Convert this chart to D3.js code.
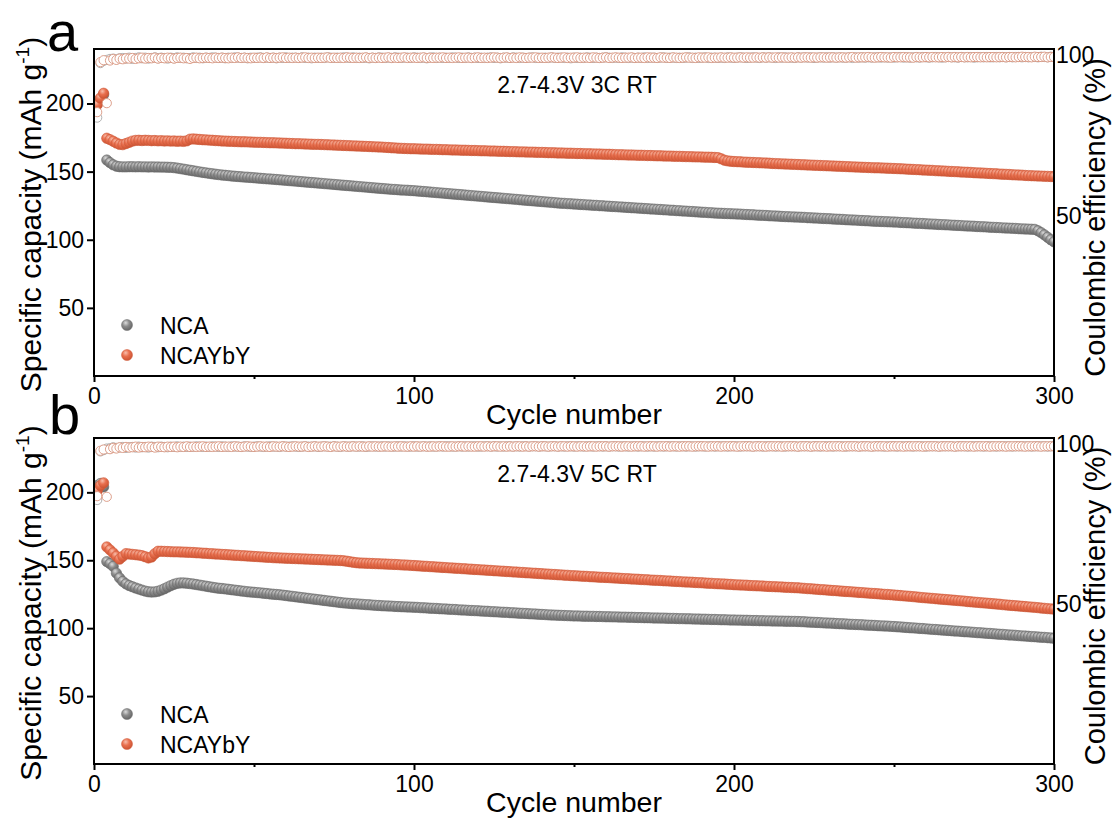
<!DOCTYPE html>
<html>
<head>
<meta charset="utf-8">
<script src="https://cdn.jsdelivr.net/npm/d3@7"></script>
<style>
  body { margin: 0; background: #fff; }
  svg { display: block; }
  text { font-family: "Liberation Sans", Arial, Helvetica, sans-serif; fill: #000; }
</style>
</head>
<body>
<svg id="chart" width="1113" height="819"></svg>
<script>
// ---- Axis ticks and labels ----
const xTicks = [0, 100, 200, 300];
const xMinorTicks = [50, 150, 250];
const capTicks = [50, 100, 150, 200];
const ceTicks = [50, 100];
const seriesNames = ["NCA", "NCAYbY"];
const conditions = ["2.7-4.3V 3C RT", "2.7-4.3V 5C RT"];
const panelLetters = ["a", "b"];

// ---- 3C cycling: discharge capacity (mAh/g), cycles 1-300 ----
const capA_NCA = [
  199.5, 203.5, 206.5, 158.5, 156.6, 155.0, 154.0, 153.6, 153.5, 153.5,
  153.6, 153.6, 153.5, 153.6, 153.5, 153.5, 153.4, 153.5, 153.4, 153.4,
  153.3, 153.3, 153.2, 153.1, 152.9, 152.6, 152.2, 151.8, 151.4, 151.0,
  150.6, 150.2, 149.8, 149.4, 149.1, 148.7, 148.4, 148.1, 147.8, 147.5,
  147.3, 147.1, 146.8, 146.6, 146.4, 146.2, 146.0, 145.9, 145.7, 145.5,
  145.3, 145.1, 144.9, 144.7, 144.6, 144.4, 144.2, 144.0, 143.8, 143.6,
  143.4, 143.2, 143.0, 142.8, 142.6, 142.4, 142.2, 142.0, 141.8, 141.6,
  141.4, 141.2, 141.0, 140.8, 140.6, 140.4, 140.2, 140.0, 139.8, 139.6,
  139.4, 139.2, 139.0, 138.8, 138.6, 138.4, 138.2, 138.0, 137.8, 137.6,
  137.4, 137.2, 137.0, 136.9, 136.7, 136.5, 136.4, 136.3, 136.1, 136.0,
  135.8, 135.6, 135.4, 135.2, 135.0, 134.8, 134.6, 134.4, 134.2, 134.0,
  133.8, 133.6, 133.4, 133.2, 133.0, 132.8, 132.6, 132.4, 132.2, 132.0,
  131.8, 131.6, 131.4, 131.2, 131.0, 130.8, 130.6, 130.4, 130.2, 130.0,
  129.8, 129.6, 129.4, 129.2, 129.0, 128.8, 128.6, 128.4, 128.2, 128.0,
  127.8, 127.6, 127.4, 127.2, 127.0, 126.8, 126.7, 126.5, 126.4, 126.2,
  126.1, 125.9, 125.8, 125.6, 125.5, 125.3, 125.2, 125.0, 124.9, 124.7,
  124.6, 124.4, 124.3, 124.1, 124.0, 123.8, 123.7, 123.5, 123.4, 123.2,
  123.1, 122.9, 122.8, 122.6, 122.5, 122.3, 122.2, 122.0, 121.9, 121.7,
  121.6, 121.4, 121.3, 121.1, 121.0, 120.8, 120.7, 120.5, 120.4, 120.2,
  120.1, 119.9, 119.8, 119.6, 119.5, 119.4, 119.3, 119.2, 119.1, 119.0,
  118.9, 118.8, 118.6, 118.5, 118.4, 118.3, 118.1, 118.0, 117.9, 117.8,
  117.6, 117.5, 117.4, 117.3, 117.1, 117.0, 116.9, 116.8, 116.7, 116.6,
  116.5, 116.4, 116.2, 116.1, 116.0, 115.9, 115.7, 115.6, 115.5, 115.4,
  115.2, 115.1, 115.0, 114.9, 114.7, 114.6, 114.5, 114.4, 114.2, 114.1,
  114.0, 113.9, 113.7, 113.6, 113.5, 113.4, 113.3, 113.2, 113.1, 113.0,
  112.9, 112.7, 112.6, 112.5, 112.4, 112.2, 112.1, 112.0, 111.9, 111.7,
  111.6, 111.5, 111.4, 111.2, 111.1, 111.0, 110.9, 110.7, 110.6, 110.5,
  110.4, 110.2, 110.1, 110.0, 109.9, 109.7, 109.6, 109.5, 109.4, 109.2,
  109.1, 109.0, 108.9, 108.7, 108.6, 108.5, 108.4, 108.3, 108.1, 108.0,
  107.9, 107.8, 107.7, 107.6, 106.6, 105.2, 103.6, 101.8, 100.0, 98.5
];
const capA_YbY = [
  199.0, 204.0, 207.5, 174.5, 173.5, 172.3, 171.0, 170.0, 169.8, 170.6,
  171.5, 172.4, 172.9, 173.0, 172.8, 173.0, 172.9, 172.7, 172.8, 172.6,
  172.7, 172.5, 172.6, 172.4, 172.5, 172.3, 172.4, 172.2, 172.6, 173.8,
  174.0, 173.8, 173.6, 173.4, 173.3, 173.1, 173.0, 172.8, 172.7, 172.5,
  172.4, 172.3, 172.2, 172.1, 172.0, 171.9, 171.9, 171.8, 171.7, 171.6,
  171.5, 171.5, 171.4, 171.3, 171.2, 171.2, 171.1, 171.0, 170.9, 170.8,
  170.7, 170.6, 170.5, 170.5, 170.4, 170.3, 170.2, 170.1, 170.0, 170.0,
  169.9, 169.8, 169.7, 169.6, 169.5, 169.4, 169.3, 169.2, 169.1, 169.0,
  168.9, 168.8, 168.7, 168.6, 168.5, 168.4, 168.3, 168.2, 168.1, 168.0,
  167.8, 167.7, 167.5, 167.4, 167.2, 167.1, 167.0, 166.9, 166.8, 166.8,
  166.7, 166.6, 166.5, 166.5, 166.4, 166.3, 166.3, 166.2, 166.1, 166.1,
  166.0, 165.9, 165.9, 165.8, 165.7, 165.7, 165.6, 165.5, 165.5, 165.4,
  165.3, 165.3, 165.2, 165.1, 165.1, 165.0, 164.9, 164.9, 164.8, 164.7,
  164.7, 164.6, 164.5, 164.5, 164.4, 164.3, 164.3, 164.2, 164.1, 164.1,
  164.0, 163.9, 163.9, 163.8, 163.7, 163.7, 163.6, 163.5, 163.5, 163.4,
  163.3, 163.3, 163.2, 163.1, 163.1, 163.0, 162.9, 162.9, 162.8, 162.7,
  162.7, 162.6, 162.5, 162.4, 162.4, 162.3, 162.2, 162.2, 162.1, 162.0,
  162.0, 161.9, 161.8, 161.8, 161.7, 161.6, 161.6, 161.5, 161.4, 161.4,
  161.3, 161.2, 161.2, 161.1, 161.0, 161.0, 160.9, 160.8, 160.8, 160.7,
  160.6, 160.6, 160.5, 160.4, 160.3, 159.4, 158.4, 157.9, 157.6, 157.4,
  157.3, 157.2, 157.0, 156.9, 156.8, 156.7, 156.6, 156.5, 156.4, 156.3,
  156.2, 156.0, 155.9, 155.8, 155.7, 155.6, 155.5, 155.4, 155.3, 155.2,
  155.1, 155.0, 154.9, 154.8, 154.7, 154.6, 154.5, 154.4, 154.3, 154.2,
  154.1, 154.0, 153.9, 153.8, 153.7, 153.6, 153.5, 153.4, 153.3, 153.2,
  153.1, 153.0, 152.9, 152.8, 152.8, 152.7, 152.6, 152.5, 152.4, 152.3,
  152.2, 152.1, 152.0, 151.8, 151.7, 151.6, 151.5, 151.4, 151.2, 151.1,
  151.0, 150.9, 150.7, 150.6, 150.5, 150.4, 150.2, 150.1, 150.0, 149.9,
  149.7, 149.6, 149.5, 149.4, 149.2, 149.1, 149.0, 148.9, 148.7, 148.6,
  148.5, 148.4, 148.2, 148.1, 148.0, 147.9, 147.7, 147.6, 147.5, 147.4,
  147.2, 147.1, 147.0, 146.9, 146.8, 146.7, 146.6, 146.5, 146.4, 146.3
];

// ---- 5C cycling: discharge capacity (mAh/g), cycles 1-300 ----
const capB_NCA = [
  205.0, 206.5, 204.0, 149.0, 147.5, 145.5, 140.5, 137.0, 134.4, 132.6,
  131.4, 130.5, 129.6, 128.8, 128.0, 127.3, 126.8, 126.6, 126.7, 127.2,
  128.0, 129.0, 130.2, 131.3, 132.3, 133.0, 133.3, 133.3, 133.1, 132.8,
  132.5, 132.1, 131.7, 131.3, 130.9, 130.5, 130.1, 129.7, 129.4, 129.2,
  128.9, 128.6, 128.3, 128.0, 127.7, 127.4, 127.1, 126.8, 126.6, 126.4,
  126.2, 126.0, 125.7, 125.5, 125.2, 125.0, 124.8, 124.6, 124.3, 124.0,
  123.7, 123.4, 123.1, 122.8, 122.5, 122.2, 121.9, 121.6, 121.3, 121.0,
  120.7, 120.4, 120.1, 119.8, 119.5, 119.2, 118.9, 118.6, 118.4, 118.2,
  118.0, 117.9, 117.7, 117.5, 117.3, 117.2, 117.0, 116.8, 116.7, 116.5,
  116.4, 116.3, 116.2, 116.0, 115.9, 115.8, 115.7, 115.6, 115.5, 115.4,
  115.3, 115.1, 115.0, 114.9, 114.7, 114.6, 114.5, 114.3, 114.2, 114.1,
  113.9, 113.8, 113.7, 113.5, 113.4, 113.3, 113.1, 113.0, 112.9, 112.8,
  112.6, 112.5, 112.4, 112.2, 112.1, 112.0, 111.8, 111.7, 111.6, 111.4,
  111.3, 111.2, 111.0, 110.9, 110.8, 110.6, 110.5, 110.4, 110.2, 110.1,
  110.0, 109.8, 109.7, 109.6, 109.5, 109.4, 109.3, 109.2, 109.1, 109.0,
  109.0, 108.9, 108.8, 108.8, 108.7, 108.7, 108.6, 108.6, 108.5, 108.4,
  108.4, 108.3, 108.3, 108.2, 108.1, 108.1, 108.0, 108.0, 107.9, 107.8,
  107.8, 107.7, 107.7, 107.6, 107.5, 107.5, 107.4, 107.4, 107.3, 107.2,
  107.2, 107.1, 107.0, 107.0, 106.9, 106.9, 106.8, 106.7, 106.7, 106.6,
  106.6, 106.5, 106.4, 106.4, 106.3, 106.2, 106.2, 106.1, 106.0, 106.0,
  105.9, 105.9, 105.8, 105.8, 105.7, 105.6, 105.6, 105.5, 105.5, 105.4,
  105.4, 105.3, 105.3, 105.2, 105.2, 105.1, 105.1, 105.0, 105.0, 104.9,
  104.8, 104.7, 104.5, 104.4, 104.3, 104.2, 104.1, 103.9, 103.8, 103.7,
  103.6, 103.4, 103.3, 103.2, 103.1, 102.9, 102.8, 102.7, 102.6, 102.5,
  102.3, 102.2, 102.1, 102.0, 101.8, 101.7, 101.6, 101.5, 101.3, 101.2,
  101.0, 100.9, 100.7, 100.5, 100.3, 100.2, 100.0, 99.8, 99.7, 99.5,
  99.3, 99.1, 99.0, 98.8, 98.6, 98.5, 98.3, 98.1, 97.9, 97.8,
  97.6, 97.4, 97.3, 97.1, 96.9, 96.7, 96.6, 96.4, 96.2, 96.1,
  95.9, 95.7, 95.5, 95.4, 95.2, 95.0, 94.9, 94.7, 94.5, 94.3,
  94.2, 94.0, 93.8, 93.7, 93.5, 93.3, 93.2, 93.0, 92.8, 92.6
];
const capB_YbY = [
  201.0, 205.0, 207.0, 159.8, 157.6, 155.4, 153.0, 150.8, 152.8, 154.9,
  154.6, 154.3, 154.1, 153.8, 153.4, 152.6, 151.7, 152.4, 154.8, 156.6,
  156.6, 156.5, 156.4, 156.3, 156.2, 156.2, 156.1, 156.0, 155.9, 155.8,
  155.7, 155.5, 155.4, 155.2, 155.1, 154.9, 154.8, 154.6, 154.5, 154.3,
  154.2, 154.0, 153.9, 153.7, 153.6, 153.4, 153.3, 153.1, 153.0, 152.8,
  152.7, 152.5, 152.4, 152.2, 152.1, 151.9, 151.8, 151.7, 151.6, 151.5,
  151.4, 151.3, 151.2, 151.1, 151.0, 150.9, 150.8, 150.7, 150.6, 150.5,
  150.4, 150.3, 150.2, 150.1, 150.0, 149.9, 149.8, 149.6, 149.3, 148.9,
  148.5, 148.2, 148.0, 147.9, 147.8, 147.7, 147.6, 147.5, 147.4, 147.3,
  147.2, 147.1, 147.0, 146.9, 146.8, 146.6, 146.5, 146.4, 146.2, 146.1,
  145.9, 145.8, 145.6, 145.5, 145.3, 145.2, 145.0, 144.9, 144.7, 144.6,
  144.4, 144.3, 144.1, 144.0, 143.8, 143.7, 143.5, 143.4, 143.2, 143.1,
  142.9, 142.8, 142.6, 142.5, 142.3, 142.2, 142.0, 141.9, 141.7, 141.6,
  141.4, 141.3, 141.1, 141.0, 140.8, 140.7, 140.5, 140.4, 140.2, 140.1,
  139.9, 139.8, 139.6, 139.5, 139.3, 139.2, 139.0, 138.9, 138.7, 138.6,
  138.5, 138.3, 138.2, 138.1, 137.9, 137.8, 137.7, 137.5, 137.4, 137.3,
  137.2, 137.0, 136.9, 136.8, 136.6, 136.5, 136.4, 136.2, 136.1, 136.0,
  135.8, 135.7, 135.6, 135.4, 135.3, 135.2, 135.1, 134.9, 134.8, 134.7,
  134.5, 134.4, 134.3, 134.1, 134.0, 133.9, 133.8, 133.6, 133.5, 133.4,
  133.2, 133.1, 133.0, 132.8, 132.7, 132.6, 132.5, 132.3, 132.2, 132.0,
  131.9, 131.8, 131.7, 131.6, 131.4, 131.3, 131.2, 131.1, 131.0, 130.8,
  130.7, 130.6, 130.5, 130.4, 130.3, 130.1, 130.0, 129.9, 129.8, 129.7,
  129.5, 129.3, 129.1, 129.0, 128.8, 128.6, 128.4, 128.3, 128.1, 127.9,
  127.7, 127.6, 127.4, 127.2, 127.0, 126.9, 126.7, 126.5, 126.3, 126.2,
  126.0, 125.8, 125.6, 125.5, 125.3, 125.1, 124.9, 124.8, 124.6, 124.4,
  124.2, 124.0, 123.8, 123.6, 123.4, 123.2, 123.0, 122.7, 122.5, 122.3,
  122.1, 121.9, 121.7, 121.5, 121.3, 121.1, 120.9, 120.7, 120.5, 120.3,
  120.1, 119.9, 119.6, 119.4, 119.2, 119.0, 118.8, 118.6, 118.4, 118.2,
  118.0, 117.8, 117.6, 117.3, 117.1, 116.9, 116.7, 116.5, 116.3, 116.1,
  115.9, 115.7, 115.5, 115.3, 115.1, 114.8, 114.6, 114.4, 114.2, 114.0
];

// ---- Coulombic efficiency (%), cycles 1-300 ----
const ceA_NCA = [
  80.6, 97.6, 98.3, 98.6, 98.9, 99.0, 98.8, 99.1, 99.2, 99.0,
  99.3, 98.9, 99.2, 99.4, 99.1, 99.3, 99.0, 99.2, 99.4, 99.1,
  99.3, 99.2, 99.0, 99.3, 99.1, 99.4, 99.2, 99.3, 99.1, 99.2,
  99.4, 99.2, 99.3, 99.1, 99.3, 99.2, 99.4, 99.3, 99.2, 99.3,
  99.1, 99.3, 99.2, 99.4, 99.3, 99.2, 99.3, 99.1, 99.3, 99.2,
  99.3, 99.4, 99.2, 99.3, 99.2, 99.3, 99.1, 99.3, 99.2, 99.4,
  99.2, 99.3, 99.3, 99.2, 99.4, 99.2, 99.3, 99.1, 99.3, 99.2,
  99.3, 99.2, 99.4, 99.3, 99.2, 99.3, 99.2, 99.4, 99.3, 99.2,
  99.4, 99.2, 99.3, 99.2, 99.3, 99.1, 99.3, 99.2, 99.4, 99.3,
  99.2, 99.3, 99.2, 99.4, 99.3, 99.2, 99.3, 99.3, 99.2, 99.4,
  99.3, 99.2, 99.3, 99.1, 99.3, 99.4, 99.2, 99.3, 99.2, 99.3,
  99.2, 99.4, 99.3, 99.2, 99.3, 99.2, 99.4, 99.2, 99.3, 99.2,
  99.3, 99.2, 99.3, 99.4, 99.2, 99.3, 99.1, 99.3, 99.3, 99.2,
  99.4, 99.3, 99.2, 99.3, 99.2, 99.3, 99.4, 99.2, 99.3, 99.2,
  99.3, 99.2, 99.4, 99.2, 99.3, 99.3, 99.2, 99.3, 99.1, 99.3,
  99.2, 99.3, 99.2, 99.4, 99.3, 99.2, 99.3, 99.2, 99.3, 99.4,
  99.3, 99.2, 99.3, 99.2, 99.4, 99.3, 99.2, 99.3, 99.2, 99.3,
  99.2, 99.4, 99.2, 99.3, 99.3, 99.2, 99.3, 99.4, 99.2, 99.3,
  99.3, 99.2, 99.3, 99.2, 99.3, 99.4, 99.2, 99.3, 99.2, 99.3,
  99.4, 99.2, 99.3, 99.3, 99.2, 99.3, 99.2, 99.4, 99.3, 99.2,
  99.3, 99.4, 99.3, 99.2, 99.3, 99.4, 99.3, 99.2, 99.4, 99.3,
  99.4, 99.3, 99.2, 99.4, 99.3, 99.4, 99.3, 99.3, 99.2, 99.4,
  99.3, 99.4, 99.3, 99.4, 99.2, 99.3, 99.4, 99.3, 99.4, 99.3,
  99.4, 99.3, 99.4, 99.3, 99.3, 99.4, 99.2, 99.4, 99.3, 99.4,
  99.3, 99.4, 99.3, 99.4, 99.4, 99.3, 99.4, 99.3, 99.4, 99.3,
  99.4, 99.5, 99.3, 99.4, 99.3, 99.4, 99.4, 99.3, 99.5, 99.4,
  99.3, 99.4, 99.5, 99.4, 99.3, 99.4, 99.5, 99.4, 99.4, 99.3,
  99.5, 99.4, 99.4, 99.5, 99.3, 99.4, 99.5, 99.4, 99.5, 99.4,
  99.4, 99.5, 99.4, 99.5, 99.4, 99.5, 99.4, 99.5, 99.5, 99.4,
  99.5, 99.4, 99.5, 99.5, 99.4, 99.6, 99.5, 99.4, 99.6, 99.5
];
const ceA_YbY = [
  82.3, 97.9, 98.5, 85.1, 98.4, 98.9, 98.6, 99.0, 98.8, 99.1,
  99.0, 99.2, 98.9, 99.1, 99.3, 99.0, 99.2, 99.1, 99.3, 99.0,
  99.2, 99.1, 99.3, 99.2, 99.0, 99.2, 99.3, 99.1, 99.2, 98.9,
  99.2, 99.3, 99.1, 99.2, 99.3, 99.2, 99.1, 99.3, 99.2, 99.3,
  99.2, 99.1, 99.3, 99.2, 99.4, 99.2, 99.3, 99.2, 99.1, 99.3,
  99.2, 99.3, 99.2, 99.4, 99.2, 99.3, 99.2, 99.3, 99.4, 99.2,
  99.3, 99.2, 99.3, 99.2, 99.3, 99.4, 99.2, 99.3, 99.2, 99.3,
  99.2, 99.3, 99.4, 99.2, 99.3, 99.2, 99.3, 99.2, 99.4, 99.3,
  99.2, 99.3, 99.2, 99.3, 99.4, 99.2, 99.3, 99.2, 99.3, 99.2,
  99.3, 99.4, 99.2, 99.3, 99.2, 99.3, 99.4, 99.2, 99.3, 99.3,
  99.2, 99.3, 99.4, 99.2, 99.3, 99.2, 99.3, 99.3, 99.4, 99.2,
  99.3, 99.2, 99.3, 99.4, 99.2, 99.3, 99.3, 99.2, 99.3, 99.4,
  99.2, 99.3, 99.2, 99.3, 99.4, 99.3, 99.2, 99.3, 99.4, 99.2,
  99.3, 99.2, 99.4, 99.3, 99.2, 99.3, 99.3, 99.4, 99.2, 99.3,
  99.2, 99.3, 99.4, 99.3, 99.2, 99.3, 99.4, 99.2, 99.3, 99.3,
  99.4, 99.2, 99.3, 99.3, 99.2, 99.4, 99.3, 99.2, 99.3, 99.4,
  99.2, 99.3, 99.4, 99.3, 99.2, 99.3, 99.3, 99.4, 99.2, 99.3,
  99.3, 99.2, 99.4, 99.3, 99.3, 99.2, 99.4, 99.3, 99.3, 99.2,
  99.4, 99.3, 99.2, 99.3, 99.4, 99.3, 99.3, 99.2, 99.4, 99.3,
  99.3, 99.4, 99.2, 99.3, 99.3, 99.4, 99.3, 99.3, 99.4, 99.3,
  99.3, 99.4, 99.3, 99.4, 99.3, 99.3, 99.4, 99.3, 99.4, 99.3,
  99.4, 99.3, 99.4, 99.3, 99.4, 99.3, 99.3, 99.4, 99.3, 99.4,
  99.3, 99.4, 99.4, 99.3, 99.4, 99.3, 99.4, 99.4, 99.3, 99.4,
  99.4, 99.3, 99.4, 99.4, 99.3, 99.4, 99.5, 99.3, 99.4, 99.4,
  99.4, 99.5, 99.4, 99.3, 99.4, 99.5, 99.4, 99.4, 99.3, 99.5,
  99.4, 99.4, 99.5, 99.4, 99.4, 99.3, 99.5, 99.4, 99.4, 99.5,
  99.4, 99.5, 99.4, 99.4, 99.5, 99.4, 99.5, 99.4, 99.5, 99.4,
  99.5, 99.4, 99.5, 99.4, 99.5, 99.5, 99.4, 99.5, 99.4, 99.5,
  99.5, 99.4, 99.5, 99.5, 99.4, 99.5, 99.5, 99.4, 99.5, 99.6,
  99.5, 99.5, 99.4, 99.6, 99.5, 99.5, 99.6, 99.4, 99.5, 99.5
];
const ceB_NCA = [
  82.6, 97.8, 98.2, 98.7, 98.8, 99.1, 98.9, 99.0, 99.2, 98.9,
  99.1, 99.2, 99.0, 99.3, 99.1, 99.2, 99.0, 99.3, 99.2, 99.1,
  99.3, 99.2, 99.1, 99.3, 99.2, 99.4, 99.2, 99.3, 99.2, 99.3,
  99.2, 99.4, 99.3, 99.2, 99.3, 99.2, 99.4, 99.3, 99.2, 99.4,
  99.3, 99.2, 99.4, 99.3, 99.3, 99.2, 99.4, 99.3, 99.2, 99.3,
  99.4, 99.3, 99.2, 99.3, 99.4, 99.3, 99.3, 99.2, 99.4, 99.3,
  99.3, 99.4, 99.3, 99.2, 99.3, 99.4, 99.3, 99.3, 99.4, 99.2,
  99.3, 99.4, 99.3, 99.3, 99.4, 99.3, 99.2, 99.4, 99.3, 99.3,
  99.4, 99.3, 99.3, 99.4, 99.2, 99.3, 99.4, 99.3, 99.3, 99.4,
  99.3, 99.4, 99.3, 99.3, 99.4, 99.3, 99.4, 99.3, 99.3, 99.4,
  99.3, 99.3, 99.4, 99.3, 99.4, 99.3, 99.3, 99.4, 99.3, 99.4,
  99.4, 99.3, 99.3, 99.4, 99.3, 99.4, 99.3, 99.4, 99.4, 99.3,
  99.3, 99.4, 99.4, 99.3, 99.4, 99.3, 99.4, 99.3, 99.4, 99.4,
  99.3, 99.4, 99.3, 99.4, 99.4, 99.3, 99.4, 99.4, 99.3, 99.4,
  99.4, 99.3, 99.4, 99.4, 99.3, 99.4, 99.3, 99.4, 99.4, 99.3,
  99.4, 99.4, 99.3, 99.4, 99.4, 99.3, 99.4, 99.4, 99.3, 99.4,
  99.3, 99.4, 99.4, 99.3, 99.4, 99.4, 99.3, 99.4, 99.4, 99.3,
  99.4, 99.4, 99.3, 99.4, 99.3, 99.4, 99.4, 99.3, 99.4, 99.4,
  99.4, 99.3, 99.4, 99.4, 99.3, 99.4, 99.4, 99.3, 99.4, 99.4,
  99.3, 99.4, 99.4, 99.3, 99.4, 99.4, 99.4, 99.3, 99.4, 99.4,
  99.4, 99.3, 99.4, 99.4, 99.4, 99.3, 99.4, 99.4, 99.3, 99.4,
  99.4, 99.4, 99.3, 99.4, 99.4, 99.3, 99.4, 99.4, 99.4, 99.3,
  99.4, 99.4, 99.4, 99.3, 99.4, 99.4, 99.3, 99.4, 99.4, 99.4,
  99.3, 99.4, 99.4, 99.4, 99.3, 99.4, 99.4, 99.4, 99.3, 99.4,
  99.4, 99.4, 99.3, 99.4, 99.4, 99.4, 99.3, 99.4, 99.4, 99.4,
  99.3, 99.4, 99.4, 99.4, 99.4, 99.3, 99.4, 99.4, 99.4, 99.3,
  99.4, 99.4, 99.4, 99.3, 99.4, 99.4, 99.4, 99.4, 99.3, 99.4,
  99.4, 99.4, 99.3, 99.4, 99.4, 99.4, 99.4, 99.3, 99.4, 99.4,
  99.4, 99.3, 99.4, 99.4, 99.4, 99.4, 99.3, 99.4, 99.4, 99.4,
  99.4, 99.4, 99.3, 99.4, 99.4, 99.4, 99.4, 99.3, 99.4, 99.4
];
const ceB_YbY = [
  83.8, 98.0, 98.4, 83.6, 98.5, 98.9, 98.7, 99.1, 98.9, 99.2,
  99.0, 99.1, 99.3, 99.0, 99.2, 99.1, 99.3, 99.2, 99.0, 99.3,
  99.2, 99.1, 99.3, 99.2, 99.3, 99.1, 99.3, 99.2, 99.4, 99.2,
  99.3, 99.2, 99.3, 99.4, 99.2, 99.3, 99.2, 99.3, 99.4, 99.2,
  99.3, 99.3, 99.2, 99.4, 99.3, 99.2, 99.3, 99.4, 99.3, 99.2,
  99.3, 99.4, 99.3, 99.3, 99.2, 99.4, 99.3, 99.3, 99.4, 99.3,
  99.2, 99.3, 99.4, 99.3, 99.3, 99.4, 99.2, 99.3, 99.4, 99.3,
  99.3, 99.4, 99.3, 99.2, 99.4, 99.3, 99.3, 99.4, 99.3, 99.3,
  99.4, 99.3, 99.4, 99.3, 99.3, 99.4, 99.3, 99.4, 99.3, 99.3,
  99.4, 99.3, 99.3, 99.4, 99.3, 99.4, 99.3, 99.3, 99.4, 99.3,
  99.4, 99.3, 99.4, 99.3, 99.3, 99.4, 99.3, 99.4, 99.4, 99.3,
  99.3, 99.4, 99.3, 99.4, 99.4, 99.3, 99.4, 99.3, 99.3, 99.4,
  99.4, 99.3, 99.4, 99.3, 99.4, 99.4, 99.3, 99.4, 99.3, 99.4,
  99.3, 99.4, 99.4, 99.3, 99.4, 99.3, 99.4, 99.4, 99.3, 99.4,
  99.4, 99.3, 99.4, 99.4, 99.3, 99.4, 99.4, 99.3, 99.4, 99.4,
  99.3, 99.4, 99.4, 99.3, 99.4, 99.4, 99.3, 99.4, 99.4, 99.4,
  99.3, 99.4, 99.4, 99.4, 99.3, 99.4, 99.4, 99.3, 99.4, 99.4,
  99.4, 99.3, 99.4, 99.4, 99.4, 99.3, 99.4, 99.4, 99.4, 99.3,
  99.4, 99.4, 99.3, 99.4, 99.4, 99.4, 99.3, 99.4, 99.4, 99.4,
  99.4, 99.3, 99.4, 99.4, 99.4, 99.3, 99.4, 99.4, 99.4, 99.4,
  99.3, 99.4, 99.4, 99.4, 99.4, 99.3, 99.4, 99.4, 99.4, 99.3,
  99.4, 99.4, 99.4, 99.4, 99.3, 99.4, 99.4, 99.4, 99.4, 99.3,
  99.4, 99.4, 99.4, 99.3, 99.4, 99.4, 99.4, 99.4, 99.3, 99.4,
  99.4, 99.4, 99.4, 99.3, 99.4, 99.4, 99.4, 99.4, 99.3, 99.4,
  99.4, 99.4, 99.3, 99.4, 99.4, 99.4, 99.4, 99.3, 99.4, 99.4,
  99.4, 99.4, 99.3, 99.4, 99.4, 99.4, 99.4, 99.4, 99.3, 99.4,
  99.4, 99.4, 99.4, 99.3, 99.4, 99.4, 99.4, 99.4, 99.3, 99.4,
  99.4, 99.4, 99.4, 99.4, 99.3, 99.4, 99.4, 99.4, 99.4, 99.3,
  99.4, 99.4, 99.4, 99.4, 99.3, 99.4, 99.4, 99.4, 99.4, 99.4,
  99.3, 99.4, 99.4, 99.4, 99.4, 99.3, 99.4, 99.4, 99.4, 99.4
];

// ---- Layout ----
const plotLeft = 94, plotRight = 1054;
const FONT = '"Liberation Sans", Arial, Helvetica, sans-serif';
const TICK_FS = 23;

const svg = d3.select("#chart");
const defs = svg.append("defs");

// shaded "ball" markers
function ballGradient(id, hi, mid, lo) {
  const g = defs.append("radialGradient").attr("id", id)
    .attr("cx", "40%").attr("cy", "34%").attr("r", "70%").attr("fx", "38%").attr("fy", "30%");
  g.append("stop").attr("offset", "0%").attr("stop-color", hi);
  g.append("stop").attr("offset", "45%").attr("stop-color", mid);
  g.append("stop").attr("offset", "100%").attr("stop-color", lo);
}
ballGradient("ballGray", "#dcdcdc", "#8c8c8c", "#626262");
ballGradient("ballOrange", "#f8bfad", "#e9704f", "#c9502f");

const style = {
  NCA:    { fill: "url(#ballGray)",   edge: "#6c6c6c", ce: "#a8a8a8" },
  NCAYbY: { fill: "url(#ballOrange)", edge: "#cf5a3b", ce: "#d9957f" }
};

const panels = [
  { letter: panelLetters[0], cond: conditions[0], top: 49,  bottom: 376,
    cap: [capA_NCA, capA_YbY], ce: [ceA_NCA, ceA_YbY] },
  { letter: panelLetters[1], cond: conditions[1], top: 438, bottom: 764,
    cap: [capB_NCA, capB_YbY], ce: [ceB_NCA, ceB_YbY] }
];

const x = d3.scaleLinear().domain([0, 300]).range([plotLeft, plotRight]);

panels.forEach((p, i) => {
  const yCap = d3.scaleLinear().domain([0, 240]).range([p.bottom, p.top]);
  const yCE = d3.scaleLinear().domain([0, 102]).range([p.bottom, p.top]);
  const g = svg.append("g").attr("class", "panel-" + p.letter);

  const clipId = "plot-clip-" + i;
  defs.append("clipPath").attr("id", clipId).append("rect")
    .attr("x", plotLeft).attr("y", p.top)
    .attr("width", plotRight - plotLeft).attr("height", p.bottom - p.top);
  const plot = g.append("g").attr("clip-path", `url(#${clipId})`);

  // discharge capacity (filled balls)
  seriesNames.forEach((name, k) => {
    plot.append("g").selectAll("circle").data(p.cap[k]).join("circle")
      .attr("cx", (d, j) => x(j + 1))
      .attr("cy", d => yCap(d))
      .attr("r", 5.2)
      .attr("fill", style[name].fill)
      .attr("stroke", style[name].edge)
      .attr("stroke-width", 0.6);
  });

  // coulombic efficiency (hollow circles, right axis)
  seriesNames.forEach((name, k) => {
    plot.append("g").selectAll("circle").data(p.ce[k]).join("circle")
      .attr("cx", (d, j) => x(j + 1))
      .attr("cy", d => yCE(d))
      .attr("r", 4.6)
      .attr("fill", "#fff")
      .attr("stroke", style[name].ce)
      .attr("stroke-width", 0.9);
  });

  // frame
  g.append("rect")
    .attr("x", plotLeft).attr("y", p.top)
    .attr("width", plotRight - plotLeft).attr("height", p.bottom - p.top)
    .attr("fill", "none").attr("stroke", "#000").attr("stroke-width", 2);

  // left axis
  const axL = g.append("g").attr("transform", `translate(${plotLeft},0)`)
    .call(d3.axisLeft(yCap).tickValues(capTicks).tickSize(7).tickPadding(3));
  axL.select(".domain").remove();
  axL.selectAll("line").attr("stroke", "#000").attr("stroke-width", 2);
  axL.selectAll("text").attr("font-size", TICK_FS).attr("font-family", FONT).attr("fill", "#000");

  // right axis
  const axR = g.append("g").attr("transform", `translate(${plotRight},0)`)
    .call(d3.axisRight(yCE).tickValues(ceTicks).tickSize(0).tickPadding(2));
  axR.select(".domain").remove();
  axR.selectAll("text").attr("font-size", TICK_FS).attr("font-family", FONT).attr("fill", "#000");

  // bottom axis, major + minor ticks
  const axB = g.append("g").attr("transform", `translate(0,${p.bottom})`)
    .call(d3.axisBottom(x).tickValues(xTicks).tickSize(6).tickPadding(6));
  axB.select(".domain").remove();
  axB.selectAll("line").attr("stroke", "#000").attr("stroke-width", 2);
  axB.selectAll("text").attr("font-size", TICK_FS).attr("font-family", FONT).attr("fill", "#000");
  const axBm = g.append("g").attr("transform", `translate(0,${p.bottom})`)
    .call(d3.axisBottom(x).tickValues(xMinorTicks).tickSize(3).tickFormat(""));
  axBm.select(".domain").remove();
  axBm.selectAll("line").attr("stroke", "#000").attr("stroke-width", 2);

  // axis titles
  const midY = (p.top + p.bottom) / 2;
  const yt = g.append("text")
    .attr("transform", `translate(41,${midY + 2}) rotate(-90)`)
    .attr("text-anchor", "middle").attr("font-size", 30);
  yt.append("tspan").text("Specific capacity (mAh g");
  yt.append("tspan").attr("font-size", 19).attr("dy", -12).text("-1");
  yt.append("tspan").attr("dy", 12).text(")");

  g.append("text")
    .attr("transform", `translate(1105,${midY + 5}) rotate(-90)`)
    .attr("text-anchor", "middle").attr("font-size", 29)
    .text("Coulombic efficiency (%)");

  g.append("text")
    .attr("x", (plotLeft + plotRight) / 2).attr("y", p.bottom + 48)
    .attr("text-anchor", "middle").attr("font-size", 28.5)
    .text("Cycle number");

  // condition label
  g.append("text")
    .attr("x", 577).attr("y", p.top + 44)
    .attr("text-anchor", "middle").attr("font-size", 23)
    .text(p.cond);

  // legend
  seriesNames.forEach((name, k) => {
    const ly = p.top + 276 + k * 30;
    g.append("circle").attr("cx", 127).attr("cy", ly).attr("r", 5.5)
      .attr("fill", style[name].fill).attr("stroke", style[name].edge).attr("stroke-width", 0.5);
    g.append("text").attr("x", 160).attr("y", ly + 8.5)
      .attr("font-size", 23).text(name);
  });

  // panel letter
  g.append("text")
    .attr("x", i === 0 ? 47 : 49).attr("y", i === 0 ? 51 : 434)
    .attr("font-size", 56).text(p.letter);
});
</script>
</body>
</html>
